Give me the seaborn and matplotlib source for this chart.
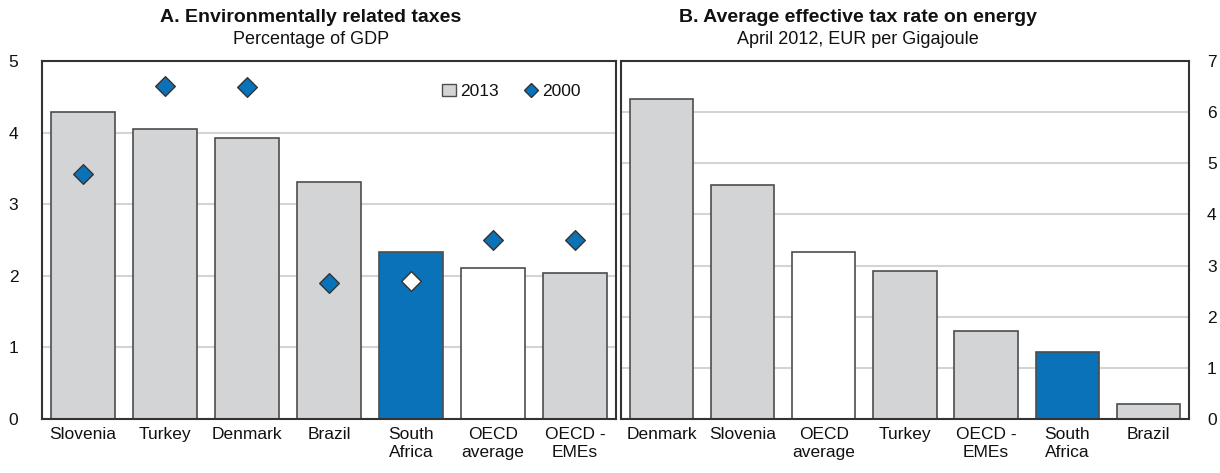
import pandas as pd
import matplotlib.pyplot as plt
import seaborn as sns
from matplotlib.patches import Patch
from matplotlib.lines import Line2D

# Panel A: environmentally related taxes, % of GDP
cats_a = ["Slovenia", "Turkey", "Denmark", "Brazil", "South\nAfrica", "OECD\naverage", "OECD -\nEMEs"]
tax_2013 = [4.28, 4.05, 3.93, 3.31, 2.33, 2.11, 2.04]
tax_2000 = [3.42, 4.65, 4.64, 1.90, 1.93, 2.50, 2.50]

# Panel B: average effective tax rate on energy, EUR per GJ
cats_b = ["Denmark", "Slovenia", "OECD\naverage", "Turkey", "OECD -\nEMEs", "South\nAfrica", "Brazil"]
energy_rate = [6.26, 4.58, 3.27, 2.89, 1.72, 1.31, 0.29]

GREY = "#d3d4d6"
BLUE = "#0a72b8"
EDGE = "#4d4d4d"


def bar_colour(c):
    if c.startswith("South"):
        return BLUE
    if c.startswith("OECD\naverage"):
        return "white"
    return GREY


sns.set_style("white")
plt.rcParams['font.family'] = ['Liberation Sans Narrow', 'Liberation Sans', 'DejaVu Sans']
plt.rcParams['font.size'] = 12
plt.rcParams['text.color'] = '#111111'
plt.rcParams['xtick.color'] = '#111111'
plt.rcParams['ytick.color'] = '#111111'

fig = plt.figure(figsize=(12.2, 4.73), dpi=100)
ax_a = fig.add_axes([0.0344, 0.1142, 0.4705, 0.757])
ax_b = fig.add_axes([0.5090, 0.1142, 0.4656, 0.757])

df_a = pd.DataFrame({"cat": cats_a, "y2013": tax_2013, "y2000": tax_2000})
df_b = pd.DataFrame({"cat": cats_b, "rate": energy_rate})

sns.barplot(data=df_a, x="cat", y="y2013", hue="cat", palette=[bar_colour(c) for c in cats_a],
            legend=False, width=0.78, saturation=1, edgecolor=EDGE, linewidth=1.2, ax=ax_a, zorder=2)
dia_col = ["white" if c.startswith("South") else BLUE for c in cats_a]
sns.stripplot(data=df_a, x="cat", y="y2000", hue="cat", palette=dia_col, legend=False,
              jitter=False, marker="D", size=10, edgecolor="#333333", linewidth=1, ax=ax_a, zorder=3)

sns.barplot(data=df_b, x="cat", y="rate", hue="cat", palette=[bar_colour(c) for c in cats_b],
            legend=False, width=0.78, saturation=1, edgecolor=EDGE, linewidth=1.2, ax=ax_b, zorder=2)

for ax, top in [(ax_a, 5), (ax_b, 7)]:
    ax.set_ylim(0, top)
    ax.set_xlim(-0.5, 6.5)
    ax.set_yticks(range(top + 1))
    ax.yaxis.grid(True, color="#d4d4d4", linewidth=1.5, zorder=0)
    ax.set_axisbelow(True)
    ax.set_xlabel("")
    ax.set_ylabel("")
    for s in ax.spines.values():
        s.set_visible(True)
        s.set_color("#333333")
        s.set_linewidth(1.5)
    ax.tick_params(axis="both", length=0, labelsize=12.5)
    ax.tick_params(axis="x", pad=6)

ax_a.tick_params(axis="y", pad=17)
ax_b.yaxis.tick_right()
ax_b.tick_params(axis="y", pad=13)

fig.text(311 / 1220, 1 - 18 / 473, "A. Environmentally related taxes", ha="center", va="center",
         fontsize=14, fontweight="bold")
fig.text(311 / 1220, 1 - 40 / 473, "Percentage of GDP", ha="center", va="center", fontsize=13)
fig.text(858 / 1220, 1 - 18 / 473, "B. Average effective tax rate on energy", ha="center", va="center",
         fontsize=14, fontweight="bold")
fig.text(858 / 1220, 1 - 40 / 473, "April 2012, EUR per Gigajoule", ha="center", va="center", fontsize=13)

handles = [Patch(facecolor=GREY, edgecolor=EDGE, label="2013"),
           Line2D([], [], marker="D", color="none", markerfacecolor=BLUE,
                  markeredgecolor="#333333", markersize=7, label="2000")]
ax_a.legend(handles=handles, loc="upper right", bbox_to_anchor=(0.965, 0.98), ncol=2, frameon=False,
            fontsize=12.5, handlelength=0.8, handletextpad=0.2, columnspacing=1.5)

fig.savefig("out.png", dpi=100)
